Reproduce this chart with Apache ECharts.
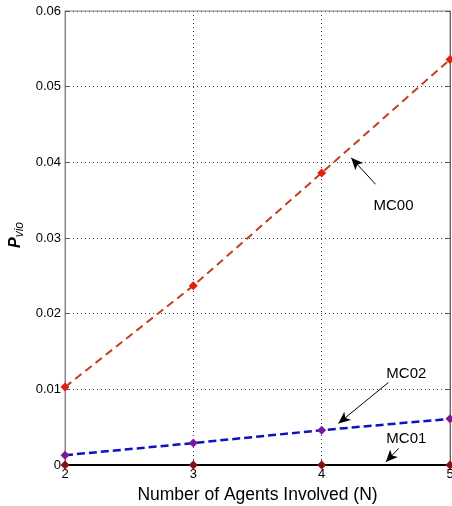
<!DOCTYPE html>
<html>
<head>
<meta charset="utf-8">
<script src="https://cdn.jsdelivr.net/npm/echarts@6/dist/echarts.min.js"></script>
<style>
  html, body { margin: 0; padding: 0; background: #fff; }
  #main { width: 452px; height: 506px; }
</style>
</head>
<body>
<div id="main"></div>
<script>
var agents = [2, 3, 4, 5];
var mc00 = [0.0103, 0.0237, 0.0386, 0.0536];
var mc02 = [0.0013, 0.0029, 0.0046, 0.0061];
var mc01 = [0, 0, 0, 0];

// annotation: label anchor, arrow tail, arrow head (data units)
var notes = [
  { name: 'MC00', label: [4.56, 0.0343], from: [4.42, 0.0371], to: [4.23, 0.0406] },
  { name: 'MC02', label: [4.66, 0.0121], from: [4.52, 0.0109], to: [4.13, 0.0055] },
  { name: 'MC01', label: [4.66, 0.0034], from: [4.60, 0.0022], to: [4.50, 0.0004] }
];

function pairs(ys) {
  return agents.map(function (x, i) { return [x, ys[i]]; });
}

var font = 'Liberation Sans, Arial, sans-serif';
var chart = echarts.init(document.getElementById('main'));

chart.setOption({
  animation: false,
  backgroundColor: '#fff',
  grid: { left: 65, right: 2, top: 11, bottom: 41, outerBoundsMode: 'none', containLabel: false,
    show: true, borderColor: '#888', borderWidth: 1 },
  xAxis: {
    type: 'value', min: 2, max: 5, interval: 1,
    name: 'Number of Agents Involved (N)', nameLocation: 'middle', nameGap: 18,
    nameTextStyle: { fontFamily: font, fontSize: 17.5, color: '#000' },
    axisLine: { show: false },
    axisTick: { inside: true, length: 5, lineStyle: { color: '#555' } },
    axisLabel: { fontFamily: font, fontSize: 13, color: '#000', margin: 3 },
    splitLine: { show: true, lineStyle: { type: [1, 3], color: '#444' } }
  },
  yAxis: [{
    type: 'value', min: 0, max: 0.06, interval: 0.01,
    axisLine: { show: true, lineStyle: { color: '#888' } },
    axisTick: { inside: true, length: 5, lineStyle: { color: '#555' } },
    axisLabel: { fontFamily: font, fontSize: 13, color: '#000', margin: 4,
      formatter: function (v) { return v === 0 ? '0' : v.toFixed(2); } },
    splitLine: { show: true, lineStyle: { type: [1, 3], color: '#444' } }
  }, {
    type: 'value', min: 0, max: 0.06, interval: 0.01, position: 'right',
    axisLine: { show: true, lineStyle: { color: '#666' } },
    axisTick: { inside: true, length: 5, lineStyle: { color: '#555' } },
    axisLabel: { show: false }, splitLine: { show: false }
  }],
  graphic: [{
    type: 'text', left: 8, top: 222, rotation: Math.PI / 2,
    style: { rich: {
      p: { fontFamily: font, fontSize: 16, fontWeight: 'bold', fontStyle: 'italic', fill: '#000' },
      s: { fontFamily: font, fontSize: 12, fontStyle: 'italic', fill: '#000', verticalAlign: 'bottom', padding: [8, 0, 0, 0] }
    }, text: '{p|P}{s|vio}' }
  }],
  series: [{
    type: 'line', data: pairs(mc00), symbol: 'diamond', symbolSize: 9,
    itemStyle: { color: '#e02010' },
    lineStyle: { color: '#c0401e', width: 2, type: [8, 5] }
  }, {
    type: 'line', data: pairs(mc02), symbol: 'diamond', symbolSize: 9,
    itemStyle: { color: '#7a1a9a' },
    lineStyle: { color: '#1010c0', width: 2.5, type: [8, 4] }
  }, {
    type: 'line', data: pairs(mc01), symbol: 'diamond', symbolSize: 9,
    itemStyle: { color: '#8a1010' },
    lineStyle: { color: '#000', width: 2 }, z: 1
  }, {
    type: 'scatter', symbolSize: 1,
    itemStyle: { color: 'rgba(0,0,0,0)' },
    data: notes.map(function (n) { return { value: n.label, name: n.name }; }),
    label: { show: true, position: 'inside', formatter: '{b}', fontFamily: font, fontSize: 15, color: '#000', opacity: 1 },
    markLine: {
      silent: true, symbol: ['none', 'arrow'], symbolSize: [8, 12],
      lineStyle: { color: '#000', width: 1, type: 'solid' },
      label: { show: false },
      data: notes.map(function (n) { return [{ coord: n.from }, { coord: n.to }]; })
    }
  }]
});
</script>
</body>
</html>
